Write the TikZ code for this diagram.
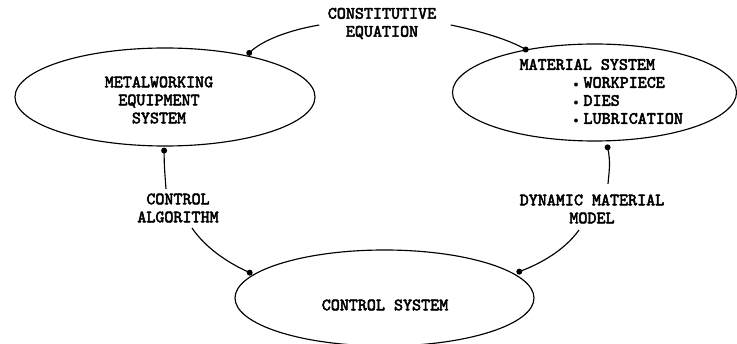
\documentclass[tikz,border=0pt]{standalone}
\usepackage{fontspec}
\setmonofont{lmmono10-regular.otf}[FakeBold=3]
\usetikzlibrary{shapes.geometric,calc}
\newcommand{\bulitem}{\makebox[10pt][l]{\fontsize{10}{10}\selectfont$\bullet$}}
\begin{document}
\begin{tikzpicture}[x=1pt,y=-1pt,line width=1.15pt,
  lbl/.style={font=\fontsize{17.2}{18}\selectfont\ttfamily,inner sep=0pt,align=center},
  oval/.style={draw,ellipse,inner sep=0pt},
  dotmark/.style={fill=black}]
\useasboundingbox (0,0) rectangle (737,344);

% ellipses
\node[oval,minimum width=300pt,minimum height=98pt] (meq) at (165,97) {};
\node[oval,minimum width=284pt,minimum height=97pt] (mat) at (594.5,92.5) {};
\node[oval,minimum width=299pt,minimum height=96pt] (ctl) at (384.5,298) {};

% texts inside ellipses
\node[lbl] (meqt) at (159,100) {METALWORKING\\EQUIPMENT\\SYSTEM};
\node[lbl,align=left,anchor=west] (matt) at (519,91.5)
  {MATERIAL SYSTEM\\\hspace*{54pt}\bulitem WORKPIECE\\\hspace*{54pt}\bulitem DIES\\\hspace*{54pt}\bulitem LUBRICATION};
\node[lbl] (ctlt) at (385,305) {CONTROL SYSTEM};

% connector labels
\node[lbl] (ce) at (382,23.5) {CONSTITUTIVE\\EQUATION};
\node[lbl] (ca) at (178,208) {CONTROL\\ALGORITHM};
\node[lbl] (dm) at (592,209) {DYNAMIC MATERIAL\\MODEL};

% connector end points (dots)
\coordinate (d1) at ([yshift=3pt]meq.26);
\coordinate (d2) at (mat.148.5);
\coordinate (d3) at ([yshift=-4pt]meq.-91);
\coordinate (d4) at ([yshift=4pt]ctl.171);
\coordinate (d5) at ([yshift=-6pt]mat.-75);
\coordinate (d6) at ([yshift=5pt]ctl.9);

% connectors
\draw ($(ce.west)+(-8,1.5)$) .. controls (290,30) and (262,40) .. (d1);
\draw ($(ce.east)+(14,1.5)$) .. controls (480,31) and (510,40) .. (d2);
\draw (d3) .. controls (164,165) and (165,175) .. ($(ca.north)+(-12,-4)$);
\draw ($(ca.south)+(14,5)$) .. controls (205,247) and (226,262) .. (d4);
\draw (d5) .. controls (611,162) and (609,172) .. ($(dm.north)+(16,-10)$);
\draw ($(dm.south)+(-13,6)$) .. controls (566,248) and (545,262) .. (d6);

\foreach \d in {d1,d2,d3,d4,d5,d6} \fill[dotmark] (\d) circle (3pt);
\end{tikzpicture}
\end{document}
